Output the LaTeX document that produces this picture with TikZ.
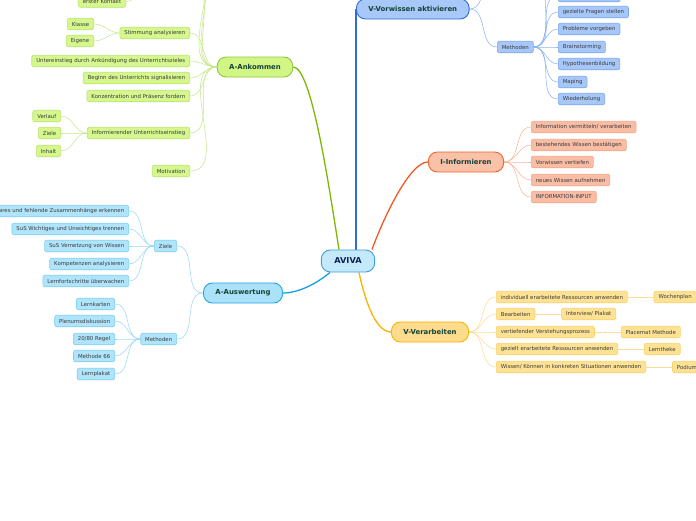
\documentclass[tikz,border=0pt]{standalone}
\usepackage{fontspec}
\setmainfont{DejaVu Sans}
\usepackage{xcolor}
\definecolor{avivafill}{HTML}{C4E9FA}
\definecolor{avivadraw}{HTML}{3F9FDB}
\definecolor{avivatext}{HTML}{0D2350}
\definecolor{maintext}{HTML}{134236}
\definecolor{subtext}{HTML}{3B3B3B}
% A-Ankommen
\definecolor{ankline}{HTML}{7CB900}
\definecolor{ankfill}{HTML}{D2F685}
\definecolor{ankdraw}{HTML}{8DC63F}
\definecolor{ankleaf}{HTML}{D5F78E}
\definecolor{ankleafdraw}{HTML}{B9E66E}
\definecolor{ankthin}{HTML}{C6E78F}
% V-Vorwissen
\definecolor{vorline}{HTML}{2E6DD6}
\definecolor{vorfill}{HTML}{A8C8F9}
\definecolor{vordraw}{HTML}{2E6DD6}
\definecolor{vorleaf}{HTML}{A7C7F9}
\definecolor{vorleafdraw}{HTML}{7BA7EE}
\definecolor{vorthin}{HTML}{8CB3F2}
% I-Informieren
\definecolor{infline}{HTML}{F05A24}
\definecolor{inffill}{HTML}{F9C1A8}
\definecolor{infdraw}{HTML}{F0642E}
\definecolor{infleaf}{HTML}{F9BDA6}
\definecolor{infleafdraw}{HTML}{F5A585}
\definecolor{infthin}{HTML}{F8B598}
% V-Verarbeiten
\definecolor{verline}{HTML}{F6B400}
\definecolor{verfill}{HTML}{FDDC8E}
\definecolor{verdraw}{HTML}{F6B400}
\definecolor{verleaf}{HTML}{FEE294}
\definecolor{verleafdraw}{HTML}{FBD26C}
\definecolor{verthin}{HTML}{FDDD96}
% A-Auswertung
\definecolor{ausline}{HTML}{13A1E5}
\definecolor{ausfill}{HTML}{ACE2F9}
\definecolor{ausdraw}{HTML}{1FA5E6}
\definecolor{ausleaf}{HTML}{B0E4FA}
\definecolor{ausleafdraw}{HTML}{7ECFF3}
\definecolor{austhin}{HTML}{9AD7F4}
\usetikzlibrary{
  positioning,
  backgrounds
}

\begin{document}
\begin{tikzpicture}[
  x=1pt, y=1pt,
  mainbox/.style={
    rectangle, rounded corners=9pt, minimum height=20pt, inner xsep=12pt, inner ysep=0pt,
    font=\fontsize{6.9}{8}\selectfont\bfseries, text=maintext, line width=0.9pt
  },
  leafbox/.style={
    rectangle, rounded corners=2pt, minimum height=11.5pt, inner xsep=4.5pt, inner ysep=0pt,
    font=\fontsize{5.4}{6}\selectfont, text=subtext, line width=0.6pt
  },
  ankleafbox/.style={leafbox, fill=ankleaf, draw=ankleafdraw, anchor=east},
  vorleafbox/.style={leafbox, fill=vorleaf, draw=vorleafdraw, anchor=west},
  infleafbox/.style={leafbox, fill=infleaf, draw=infleafdraw, anchor=west},
  verleafbox/.style={leafbox, fill=verleaf, draw=verleafdraw, anchor=west},
  ausleafbox/.style={leafbox, fill=ausleaf, draw=ausleafdraw, anchor=east},
  mainline/.style={line width=1.3pt},
  thinline/.style={line width=0.55pt}
]
\useasboundingbox (0,-520) rectangle (696,0);

% centre
\node[mainbox, fill=avivafill, draw=avivadraw, text=avivatext, minimum height=22pt, inner xsep=13pt,
  font=\fontsize{8.2}{10}\selectfont\bfseries] (aviva) at (348,-261) {AVIVA};

% main branches
\node[mainbox, fill=ankfill, draw=ankdraw] (ank) at (255,-67) {A-Ankommen};
\node[mainbox, fill=vorfill, draw=vordraw, anchor=west] (vor) at (356,-9) {V-Vorwissen aktivieren};
\node[mainbox, fill=inffill, draw=infdraw] (inf) at (466,-162) {I-Informieren};
\node[mainbox, fill=verfill, draw=verdraw] (ver) at (430,-332) {V-Verarbeiten};
\node[mainbox, fill=ausfill, draw=ausdraw] (aus) at (243,-293) {A-Auswertung};

% A-Ankommen
\coordinate (ank0a) at (190,14);
\coordinate (ank0b) at (190,32);
\coordinate (ank0c) at (190,52);
\coordinate (a0p) at (150,14);
\node[ankleafbox] (a1) at (126,-1.5) {erster Kontakt};
\node[ankleafbox] (a2) at (190,-33) {Stimmung analysieren};
\node[ankleafbox] (a21) at (94,-24) {Klasse};
\node[ankleafbox] (a22) at (94,-41) {Eigene};
\node[ankleafbox] (a3) at (190,-61) {Untereinstieg durch Ankündigung des Unterrichtszieles};
\node[ankleafbox] (a4) at (190,-78) {Beginn des Unterrichts signalisieren};
\node[ankleafbox] (a5) at (190,-96) {Konzentration und Präsenz fordern};
\node[ankleafbox] (a6) at (190,-133) {Informierender Unterrichtseinstieg};
\node[ankleafbox] (a61) at (61,-116) {Verlauf};
\node[ankleafbox] (a62) at (61,-133) {Ziele};
\node[ankleafbox] (a63) at (61,-151) {Inhalt};
\node[ankleafbox] (a7) at (190,-171) {Motivation};

% V-Vorwissen aktivieren
\coordinate (vor0) at (497,28);
\coordinate (vm00) at (558,22);
\node[vorleafbox] (vm) at (497,-47) {Methoden};
\node[vorleafbox, minimum width=62pt] (vm0) at (558,4) {};
\node[vorleafbox] (vm1) at (558,-12) {gezielte Fragen stellen};
\node[vorleafbox] (vm2) at (558,-29) {Probleme vorgeben};
\node[vorleafbox] (vm3) at (558,-47) {Brainstorming};
\node[vorleafbox] (vm4) at (558,-64) {Hypothesenbildung};
\node[vorleafbox] (vm5) at (558,-82) {Maping};
\node[vorleafbox] (vm6) at (558,-99) {Wiederholung};

% I-Informieren
\node[infleafbox] (i1) at (531,-127) {Information vermitteln/ verarbeiten};
\node[infleafbox] (i2) at (531,-145) {bestehendes Wissen bestätigen};
\node[infleafbox] (i3) at (531,-162) {Vorwissen vertiefen};
\node[infleafbox] (i4) at (531,-180) {neues Wissen aufnehmen};
\node[infleafbox] (i5) at (531,-197) {INFORMATION-INPUT};

% V-Verarbeiten
\node[verleafbox] (v1) at (496,-297) {individuell erarbeitete Ressourcen anwenden};
\node[verleafbox, right=26pt of v1] (v11) {Wochenplan};
\node[verleafbox] (v2) at (496,-314) {Bearbeiten};
\node[verleafbox, right=26pt of v2] (v21) {Interview/ Plakat};
\node[verleafbox] (v3) at (496,-332) {vertiefender Verstehungsprozess};
\node[verleafbox, right=26pt of v3] (v31) {Placemat Methode};
\node[verleafbox] (v4) at (496,-349) {gezielt erarbeitete Ressourcen anwenden};
\node[verleafbox, right=26pt of v4] (v41) {Lerntheke};
\node[verleafbox] (v5) at (496,-367) {Wissen/ Können in konkreten Situationen anwenden};
\node[verleafbox, right=26pt of v5] (v51) {Podiumsdiskussion};

% A-Auswertung
\node[ausleafbox] (az) at (177,-246) {Ziele};
\node[ausleafbox] (az1) at (129,-211) {Unklares und fehlende Zusammenhänge erkennen};
\node[ausleafbox] (az2) at (129,-229) {SuS Wichtiges und Unwichtiges trennen};
\node[ausleafbox] (az3) at (129,-246) {SuS Vernetzung von Wissen};
\node[ausleafbox] (az4) at (129,-264) {Kompetenzen analysieren};
\node[ausleafbox] (az5) at (129,-281) {Lernfortschritte überwachen};
\node[ausleafbox] (am) at (177,-339) {Methoden};
\node[ausleafbox] (am1) at (115,-304) {Lernkarten};
\node[ausleafbox] (am2) at (115,-321) {Plenumsdiskussion};
\node[ausleafbox] (am3) at (115,-339) {20/80 Regel};
\node[ausleafbox] (am4) at (115,-356) {Methode 66};
\node[ausleafbox] (am5) at (115,-374) {Lernplakat};

\begin{scope}[on background layer]
  % main connectors
  \draw[mainline, ankline] ([xshift=-9pt]aviva.north) to[out=99, in=0, out distance=70pt, in distance=18pt] (ank.east);
  \draw[mainline, vorline] ([xshift=8pt]aviva.north) -- (vor.west);
  \draw[mainline, infline] ([xshift=24pt]aviva.north) to[out=70, in=180, out distance=35pt, in distance=18pt] (inf.west);
  \draw[mainline, verline] ([xshift=11pt]aviva.south) to[out=-78, in=180, out distance=30pt, in distance=15pt] (ver.west);
  \draw[mainline, ausline] ([xshift=-18pt]aviva.south) to[out=220, in=0, out distance=18pt, in distance=15pt] (aus.east);

  % A-Ankommen
  \foreach \leaf in {ank0a,ank0b,ank0c}
    \draw[thinline, ankthin] (ank.west) to[out=180, in=0] (\leaf);
  \foreach \leaf in {a2,a3,a4,a5,a6,a7}
    \draw[thinline, ankthin] (ank.west) to[out=180, in=0] (\leaf.east);
  \draw[thinline, ankthin] (a0p) to[out=180, in=0] (a1.east);
  \foreach \leaf in {a21,a22}
    \draw[thinline, ankthin] (a2.west) to[out=180, in=0] (\leaf.east);
  \foreach \leaf in {a61,a62,a63}
    \draw[thinline, ankthin] (a6.west) to[out=180, in=0] (\leaf.east);

  % V-Vorwissen aktivieren
  \draw[thinline, vorthin] (vor.east) to[out=0, in=180] (vor0);
  \draw[thinline, vorthin] (vor.east) to[out=0, in=180] (vm.west);
  \draw[thinline, vorthin] (vm.east) to[out=0, in=180] (vm00);
  \foreach \leaf in {vm0,vm1,vm2,vm3,vm4,vm5,vm6}
    \draw[thinline, vorthin] (vm.east) to[out=0, in=180] (\leaf.west);

  % I-Informieren
  \foreach \leaf in {i1,i2,i3,i4,i5}
    \draw[thinline, infthin] (inf.east) to[out=0, in=180] (\leaf.west);

  % V-Verarbeiten
  \foreach \leaf in {v1,v2,v3,v4,v5}
    \draw[thinline, verthin] (ver.east) to[out=0, in=180] (\leaf.west);
  \foreach \leaf in {1,2,3,4,5}
    \draw[thinline, verthin] (v\leaf.east) -- (v\leaf1.west);

  % A-Auswertung
  \draw[thinline, austhin] (aus.west) to[out=180, in=0] (az.east);
  \draw[thinline, austhin] (aus.west) to[out=180, in=0] (am.east);
  \foreach \leaf in {az1,az2,az3,az4,az5}
    \draw[thinline, austhin] (az.west) to[out=180, in=0] (\leaf.east);
  \foreach \leaf in {am1,am2,am3,am4,am5}
    \draw[thinline, austhin] (am.west) to[out=180, in=0] (\leaf.east);
\end{scope}

\end{tikzpicture}
\end{document}
